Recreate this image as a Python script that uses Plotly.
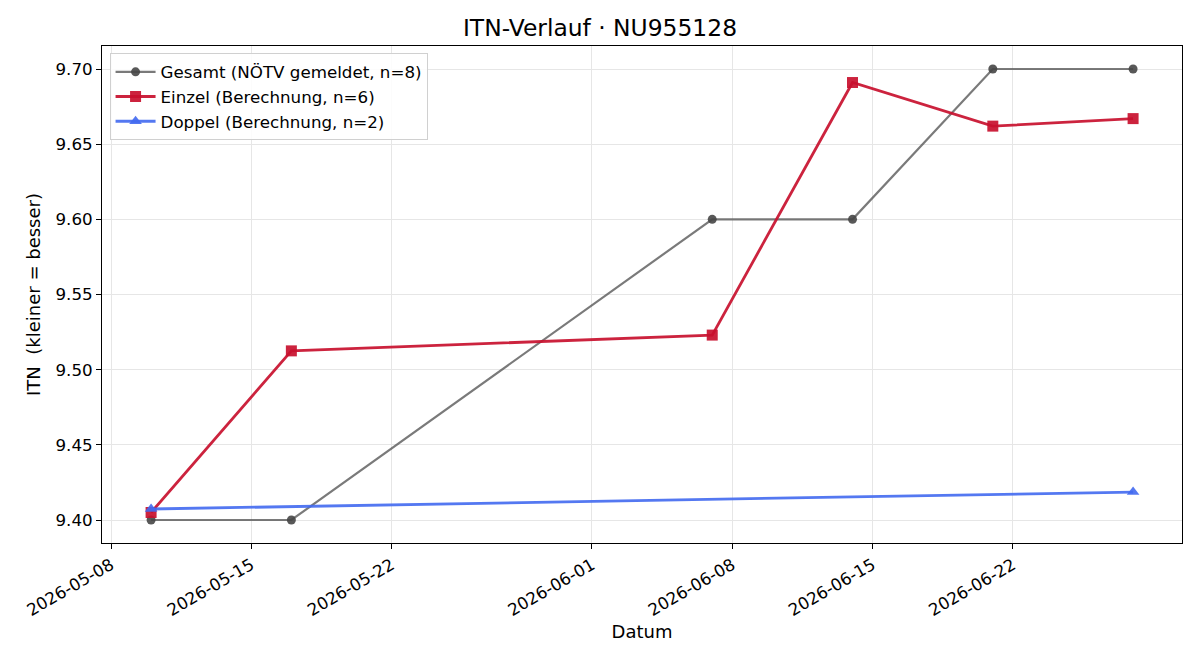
import plotly.graph_objects as go

# Data
gesamt_dates = ["2026-05-10", "2026-05-17", "2026-06-07", "2026-06-14", "2026-06-21", "2026-06-28"]
gesamt_vals = [9.40, 9.40, 9.60, 9.60, 9.70, 9.70]

einzel_dates = ["2026-05-10", "2026-05-17", "2026-06-07", "2026-06-14", "2026-06-21", "2026-06-28"]
einzel_vals = [9.405, 9.5125, 9.523, 9.691, 9.662, 9.667]

doppel_dates = ["2026-05-10", "2026-06-28"]
doppel_vals = [9.4073, 9.4186]

x_tickvals = ["2026-05-08", "2026-05-15", "2026-05-22", "2026-06-01", "2026-06-08", "2026-06-15", "2026-06-22"]
y_tickvals = [9.40, 9.45, 9.50, 9.55, 9.60, 9.65, 9.70]

FONT = "DejaVu Sans"

fig = go.Figure()
fig.add_trace(go.Scatter(
    x=gesamt_dates, y=gesamt_vals, mode="lines+markers",
    name="Gesamt (NÖTV gemeldet, n=8)",
    line=dict(color="rgba(85,85,85,0.78)", width=2.2),
    marker=dict(symbol="circle", size=9, color="rgba(70,70,70,0.9)"),
))
fig.add_trace(go.Scatter(
    x=einzel_dates, y=einzel_vals, mode="lines+markers",
    name="Einzel (Berechnung, n=6)",
    line=dict(color="rgba(200,16,46,0.92)", width=2.8),
    marker=dict(symbol="square", size=11, color="rgba(200,16,46,0.92)"),
))
fig.add_trace(go.Scatter(
    x=doppel_dates, y=doppel_vals, mode="lines+markers",
    name="Doppel (Berechnung, n=2)",
    line=dict(color="rgba(65,105,240,0.9)", width=2.8),
    marker=dict(symbol="triangle-up", size=11, color="rgba(65,105,240,0.9)"),
))

fig.update_layout(
    width=1200, height=660,
    margin=dict(l=102, r=18, t=46, b=117),
    paper_bgcolor="white", plot_bgcolor="white",
    font=dict(family=FONT, size=16.7, color="black"),
    title=dict(text="ITN-Verlauf · NU955128", x=0.5, xanchor="center",
               y=1 - 28/660, yanchor="middle", font=dict(size=23.4, family=FONT)),
    legend=dict(x=0.007, y=0.985, xanchor="left", yanchor="top",
                bgcolor="rgba(255,255,255,0.85)", bordercolor="#d0d0d0", borderwidth=1,
                font=dict(size=16.7, family=FONT), tracegroupgap=0, itemwidth=40),
    showlegend=True,
)
fig.update_xaxes(
    type="date",
    range=["2026-05-07 13:13", "2026-06-30 10:34"],
    tickvals=x_tickvals, ticktext=x_tickvals,
    tickangle=-30, tickfont=dict(size=16.7),
    ticks="outside", ticklen=5, tickcolor="black",
    showline=True, linecolor="black", linewidth=1, mirror=True,
    showgrid=True, gridcolor="#e6e6e6", gridwidth=1,
    zeroline=False,
    title=dict(text="Datum", font=dict(size=18), standoff=6),
)
fig.update_yaxes(
    range=[9.3847, 9.7153],
    tickvals=y_tickvals, tickformat=".2f", tickfont=dict(size=16.7),
    ticks="outside", ticklen=5, tickcolor="black",
    showline=True, linecolor="black", linewidth=1, mirror=True,
    showgrid=True, gridcolor="#e6e6e6", gridwidth=1,
    zeroline=False,
    title=dict(text="ITN  (kleiner = besser)", font=dict(size=18), standoff=10),
)

fig.write_html("out.html")
